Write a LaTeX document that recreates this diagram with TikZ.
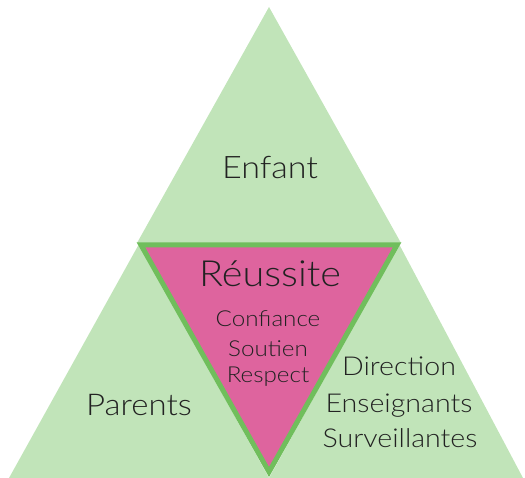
\documentclass[tikz,border=0pt]{standalone}
\usepackage{fontspec}
\setmainfont{Lato}[UprightFont=* Light, FakeStretch=1.1]
\definecolor{leafgreen}{RGB}{193,228,185}
\definecolor{rimgreen}{RGB}{112,190,92}
\definecolor{rosepink}{RGB}{222,100,158}
\definecolor{inkgray}{RGB}{34,34,34}
\tikzset{
  label text/.style={text=inkgray, inner sep=0pt, anchor=base},
}
\begin{document}
\begin{tikzpicture}[x=1pt,y=-1pt]
  \useasboundingbox (0,0) rectangle (525,478);

  % Corners of the three green triangles
  \coordinate (apex) at (269,7);
  \coordinate (midL) at (137,243);
  \coordinate (midR) at (401,243);
  \coordinate (footL) at (9,478);
  \coordinate (footM) at (269,478);
  \coordinate (footR) at (523,478);

  % Filling triangle Enfant
  \fill [leafgreen] (apex) -- (midL) -- (midR) -- cycle;%
  % Filling triangle Parents
  \fill [leafgreen] (139,244) -- (footL) -- (footM) -- cycle;%
  % Filling triangle Direction
  \fill [leafgreen] (399,244) -- (footM) -- (footR) -- cycle;%

  % Drawing triangle Reussite
  \coordinate (pinkL) at (141,245);
  \coordinate (pinkR) at (397,245);
  \coordinate (pinkB) at (269,472);
  \filldraw [fill=rosepink, draw=rimgreen, line width=5pt, line join=miter]
    (pinkL) -- (pinkR) -- (pinkB) -- cycle;%

  % Texts
  \node [label text, font=\fontsize{31}{36}\selectfont] (enfant) at (270,179) {Enfant};
  \node [label text, font=\fontsize{36}{42}\selectfont] (reussite) at (270,287) {Réussite};
  \node [label text, font=\fontsize{22}{25}\selectfont] (confiance) at (268,327) {Confiance};
  \node [label text, font=\fontsize{22}{25}\selectfont] (soutien) at (268,356) {Soutien};
  \node [label text, font=\fontsize{22}{25}\selectfont] (respect) at (268,383) {Respect};
  \node [label text, font=\fontsize{30}{36}\selectfont] (parents) at (139,415) {Parents};
  \node [label text, font=\fontsize{26}{30}\selectfont] (direction) at (399,375) {Direction};
  \node [label text, font=\fontsize{26}{30}\selectfont] (enseignants) at (399,412) {Enseignants};
  \node [label text, font=\fontsize{26}{30}\selectfont] (surveillantes) at (400,447) {Surveillantes};
\end{tikzpicture}
\end{document}
